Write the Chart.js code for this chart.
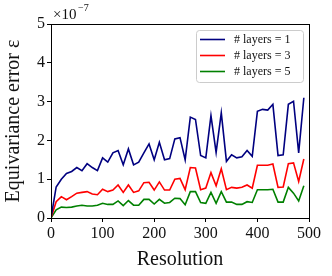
<!DOCTYPE html>
<html>
<head>
<meta charset="utf-8">
<script src="https://cdn.jsdelivr.net/npm/chart.js@4"></script>
<style>
  html, body { margin: 0; padding: 0; background: #fff; }
  #wrap { width: 332px; height: 276px; }
</style>
</head>
<body>
<div id="wrap"><canvas id="errChart" width="332" height="276"></canvas></div>
<script>
// resolution values (x)
const resolution = [0, 10, 20, 30, 40, 50, 60, 70, 80, 90,
  100, 110, 120, 130, 140, 150, 160, 170, 180, 190,
  200, 210, 220, 230, 240, 250, 260, 270, 280, 290,
  300, 310, 320, 330, 340, 350, 360, 370, 380, 390,
  400, 410, 420, 430, 440, 450, 460, 470, 480, 490]

// equivariance error, in units of 1e-7
const layers1 = [0, 0.8, 1.0, 1.15, 1.2, 1.3, 1.22, 1.4, 1.3, 1.22,
  1.55, 1.44, 1.68, 1.74, 1.37, 1.78, 1.37, 1.44, 1.68, 1.91,
  1.5, 1.95, 1.5, 1.53, 2.04, 2.07, 1.5, 2.6, 2.54, 1.61,
  1.55, 2.64, 1.69, 2.71, 1.46, 1.63, 1.55, 1.58, 1.74, 1.59,
  2.75, 2.8, 2.78, 2.93, 1.61, 1.63, 2.93, 3.01, 1.68, 3.1]

const layers3 = [0, 0.42, 0.55, 0.47, 0.55, 0.64, 0.66, 0.68, 0.62, 0.6,
  0.74, 0.68, 0.72, 0.85, 0.66, 0.85, 0.66, 0.7, 0.91, 0.92,
  0.72, 0.93, 0.72, 0.72, 1.0, 1.02, 0.73, 1.3, 1.29, 0.73,
  0.77, 1.17, 0.83, 1.27, 0.73, 0.79, 0.77, 0.79, 0.85, 0.77,
  1.36, 1.36, 1.36, 1.39, 0.79, 0.8, 1.4, 1.42, 0.94, 1.52]

const layers5 = [0, 0.21, 0.28, 0.27, 0.28, 0.31, 0.33, 0.31, 0.31, 0.33,
  0.38, 0.35, 0.35, 0.44, 0.32, 0.45, 0.33, 0.33, 0.48, 0.48,
  0.36, 0.48, 0.38, 0.4, 0.51, 0.5, 0.34, 0.68, 0.68, 0.4,
  0.38, 0.66, 0.38, 0.68, 0.41, 0.41, 0.35, 0.35, 0.42, 0.4,
  0.73, 0.73, 0.73, 0.74, 0.41, 0.41, 0.79, 0.64, 0.44, 0.83]

const seriesNames = ["# layers = 1", "# layers = 3", "# layers = 5"]
const seriesColors = ["#000080", "#ff0000", "#008000"]

const xTicks = [0, 100, 200, 300, 400, 500]
const yTicks = [0, 1, 2, 3, 4, 5]

const serif = "'Liberation Serif', 'DejaVu Serif', serif"

function toPoints(ys) {
  return ys.map((y, i) => ({ x: resolution[i], y: y }))
}

// frame, offset text and legend drawn inside the axes, like matplotlib
const extras = {
  id: "extras",
  afterDraw(chart) {
    const ctx = chart.ctx
    const a = chart.chartArea
    ctx.save()
    ctx.strokeStyle = "#000"
    ctx.lineWidth = 1
    ctx.strokeRect(a.left + 0.5, a.top + 0.5, a.right - a.left, a.bottom - a.top)

    // x10^-7
    ctx.fillStyle = "#111"
    ctx.font = "15px " + serif
    ctx.textBaseline = "alphabetic"
    ctx.fillText("\u00d710", a.left + 2, a.top - 5)
    ctx.font = "10px " + serif
    ctx.fillText("\u22127", a.left + 27, a.top - 13)

    // legend box, anchored to the top right of the axes
    const bw = 107, bh = 52
    const bx = a.right - bw - 6, by = a.top + 6
    ctx.fillStyle = "rgba(255,255,255,0.8)"
    ctx.strokeStyle = "#ccc"
    ctx.beginPath()
    ctx.roundRect(bx + 0.5, by + 0.5, bw, bh, 3)
    ctx.fill()
    ctx.stroke()
    ctx.font = "12px " + serif
    ctx.textBaseline = "middle"
    chart.data.datasets.forEach((ds, i) => {
      const yy = by + 9.5 + i * 16
      ctx.strokeStyle = ds.borderColor
      ctx.lineWidth = 1.6
      ctx.beginPath()
      ctx.moveTo(bx + 4, yy)
      ctx.lineTo(bx + 29, yy)
      ctx.stroke()
      ctx.fillStyle = "#111"
      ctx.fillText(ds.label, bx + 38, yy)
    })
    ctx.restore()
  }
}

new Chart(document.getElementById("errChart"), {
  type: "line",
  data: {
    datasets: [
      { label: seriesNames[0], data: toPoints(layers1), borderColor: seriesColors[0] },
      { label: seriesNames[1], data: toPoints(layers3), borderColor: seriesColors[1] },
      { label: seriesNames[2], data: toPoints(layers5), borderColor: seriesColors[2] }
    ].map(d => Object.assign(d, { borderWidth: 1.6, pointRadius: 0, tension: 0, fill: false }))
  },
  options: {
    responsive: false,
    animation: false,
    devicePixelRatio: 1,
    layout: { padding: { top: 24, right: 23, left: 0, bottom: 0 } },
    plugins: { legend: { display: false }, tooltip: { enabled: false } },
    scales: {
      x: {
        type: "linear",
        min: 0, max: 500,
        afterBuildTicks: s => { s.ticks = xTicks.map(v => ({ value: v })) },
        afterFit: s => { s.height = 58 },
        grid: { drawOnChartArea: false, drawTicks: true, tickLength: 4, color: "#000" },
        border: { display: true, color: "#000" },
        ticks: { color: "#111", font: { family: serif, size: 16 }, padding: 2, maxRotation: 0 },
        title: { display: true, text: "Resolution", color: "#111", font: { family: serif, size: 20 }, padding: { top: 0 } }
      },
      y: {
        type: "linear",
        min: 0, max: 5,
        afterBuildTicks: s => { s.ticks = yTicks.map(v => ({ value: v })) },
        afterFit: s => { s.width = 51 },
        grid: { drawOnChartArea: false, drawTicks: true, tickLength: 4, color: "#000" },
        border: { display: true, color: "#000" },
        ticks: { color: "#111", font: { family: serif, size: 16 }, padding: 2 },
        title: { display: true, text: "Equivariance error \u03b5", color: "#111", font: { family: serif, size: 20 }, padding: { top: 2, bottom: 0 } }
      }
    }
  },
  plugins: [extras]
})
</script>
</body>
</html>
